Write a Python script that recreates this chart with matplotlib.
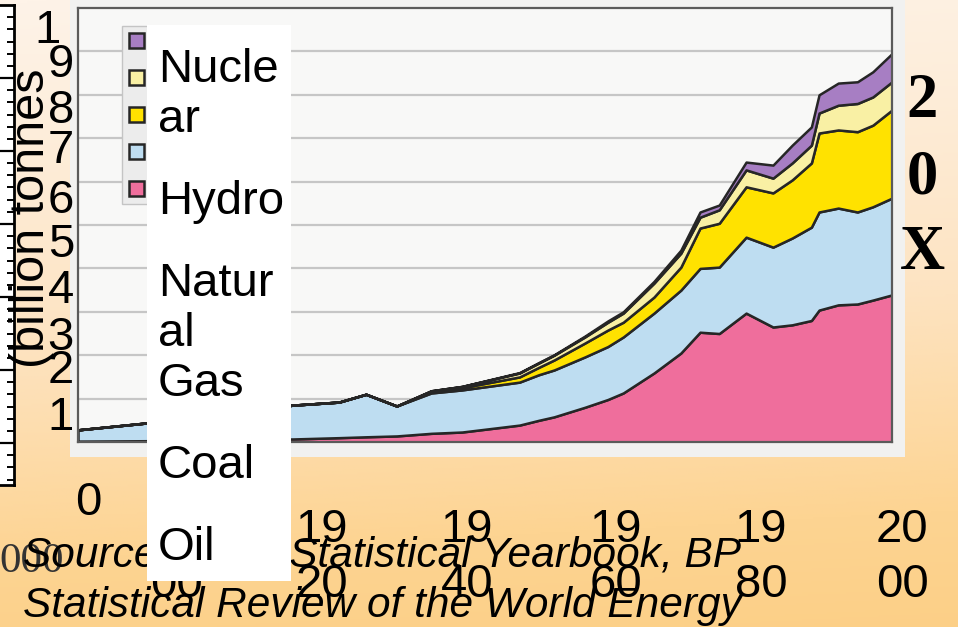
import numpy as np
import matplotlib.pyplot as plt
from matplotlib.patches import Rectangle
from matplotlib.colors import LinearSegmentedColormap

plt.rcParams['font.family'] = ['Liberation Sans', 'DejaVu Sans']

# world energy use by source (scanned stacked chart)
years = [1900, 1909, 1928, 1934, 1937.5, 1941.5, 1946, 1950, 1957.5, 1960, 1962, 1966, 1969,
         1971, 1975, 1978.5, 1981, 1983.5, 1987, 1990.5, 1993, 1995.5, 1996.5, 1999, 2001.5,
         2003.5, 2006]
oil = [0.02, 0.03, 0.07, 0.10, 0.12, 0.14, 0.20, 0.23, 0.39, 0.50, 0.58, 0.80, 0.98,
       1.13, 1.59, 2.05, 2.53, 2.50, 2.97, 2.65, 2.70, 2.80, 3.04, 3.16, 3.18, 3.27, 3.39]
coal = [0.26, 0.41, 0.78, 0.82, 0.98, 0.69, 0.93, 0.97, 0.99, 1.05, 1.08, 1.16, 1.22,
        1.29, 1.38, 1.45, 1.47, 1.53, 1.75, 1.84, 2.00, 2.15, 2.26, 2.23, 2.12, 2.15, 2.23]
gas = [0, 0, 0, 0, 0, 0, 0.03, 0.05, 0.12, 0.17, 0.23, 0.32, 0.38,
       0.34, 0.37, 0.53, 0.93, 1.01, 1.16, 1.25, 1.34, 1.48, 1.82, 1.80, 1.85, 1.88, 2.03]
hydro = [0, 0, 0, 0, 0, 0, 0.02, 0.03, 0.09, 0.10, 0.11, 0.14, 0.18,
         0.21, 0.32, 0.32, 0.25, 0.31, 0.39, 0.34, 0.39, 0.41, 0.46, 0.57, 0.65, 0.65, 0.65]
nuclear = [0, 0, 0, 0, 0, 0, 0, 0, 0.01, 0.01, 0.01, 0.02, 0.03,
           0.03, 0.04, 0.07, 0.12, 0.11, 0.18, 0.30, 0.41, 0.42, 0.42, 0.51, 0.50, 0.58, 0.65]
series_names = ['Oil', 'Coal', 'Natural Gas', 'Hydro', 'Nuclear']
series_colors = ['#EF6E9C', '#BEDDF1', '#FFE200', '#F9F0A4', '#A77EC3']

# slide overlay texts
legend_lines = [['Nucle', 'ar'], ['Hydro'], ['Natur', 'al', 'Gas'], ['Coal'], ['Oil']]
ytick_labels = ['1', '9', '8', '7', '6', '5', '4', '3', '2', '1']
xtick_labels = [('19', '00'), ('19', '20'), ('19', '40'), ('19', '60'), ('19', '80'), ('20', '00')]
source_lines = ['Source: U.N., Statistical Yearbook, BP', 'Statistical Review of the World Energy']

W, H = 958, 627


def fx(x):
    return x / W


def fy(y):
    return 1 - y / H


fig = plt.figure(figsize=(W / 100, H / 100), dpi=100)

# orange slide background
bg = fig.add_axes([0, 0, 1, 1], zorder=0)
yy, xx = np.mgrid[0:1:300j, 0:1:300j]
t = np.clip(yy ** 1.1 * 0.9 + xx * 0.08, 0, 1)
cmap = LinearSegmentedColormap.from_list('bg', [(0, '#FEF3E8'), (0.45, '#FDE4C3'),
                                                (0.8, '#FDD492'), (1, '#FCCF86')])
bg.imshow(t, cmap=cmap, aspect='auto', extent=[0, 1, 0, 1], vmin=0, vmax=1)
bg.axis('off')

# scanned picture panel
fig.add_artist(Rectangle((fx(70), fy(457)), (905 - 70) / W, 457 / H, transform=fig.transFigure,
                         facecolor='#F1F1F0', edgecolor='none', zorder=0.5))

ax = fig.add_axes([fx(78), fy(442), (892 - 78) / W, (442 - 8) / H], zorder=1)
ax.set_facecolor('#F8F8F7')
ax.stackplot(years, oil, coal, gas, hydro, nuclear, colors=series_colors, labels=series_names,
             edgecolor='#262626', linewidth=1.8)
ax.set_xlim(1900, 2006)
ax.set_ylim(0, 10)
ax.set_yticks(range(1, 10))
ax.yaxis.grid(True, color='#C6C6C6', lw=1.6)
ax.set_axisbelow(True)
ax.tick_params(axis='y', length=0, labelleft=False)
ax.set_xticks(np.arange(1905, 2006, 5))
ax.tick_params(axis='x', direction='in', length=5, width=1, color='#777', labelbottom=False)
for s in ax.spines.values():
    s.set_color('#5a5a5a')
    s.set_linewidth(1.6)

h, l = ax.get_legend_handles_labels()
ax.legend(h[::-1], l[::-1], loc='upper left', bbox_to_anchor=((122 - 78) / 814, (442 - 26) / 434),
          fontsize=12, handlelength=0.9, handleheight=1.0, labelspacing=1.25, borderpad=0.4,
          borderaxespad=0, fancybox=False, facecolor='#ECECEC', edgecolor='#C4C4C4', framealpha=1)

# ruler box at the left edge
rax = fig.add_axes([fx(-40), fy(485), 54 / W, 480 / H], zorder=2.6)
rax.set_facecolor('white')
rax.set_ylim(480 / 73, 0)
rax.set_yticks(range(1, 7))
rax.set_yticks(np.arange(1 / 6, 480 / 73, 1 / 6), minor=True)
rax.yaxis.tick_right()
rax.tick_params(axis='y', which='major', direction='in', length=10, width=1.6, labelright=False)
rax.tick_params(axis='y', which='minor', direction='in', length=5, width=1.4)
rax.set_xticks([])
for s in rax.spines.values():
    s.set_linewidth(2)

# y label and y tick labels of the slide chart
fig.text(fx(44), fy(368), '(billion tonnes', rotation=90, rotation_mode='anchor',
         ha='left', va='baseline', fontsize=35, zorder=3)
ybase = [43, 77, 123, 163, 213, 257, 303, 350, 383, 430]
for i, lab in enumerate(ytick_labels):
    xr = 61 if i == 0 else 74
    fig.text(fx(xr), fy(ybase[i]), lab, ha='right', va='baseline', fontsize=34, zorder=3)
fig.text(fx(88), fy(515), '0', ha='center', va='baseline', fontsize=34, zorder=3)
fig.text(fx(64), fy(572), '000', ha='right', va='baseline', fontsize=31,
         family='Liberation Serif', color='#333333', zorder=2)

# x tick labels and source (under the white legend box)
for i, (a, b) in enumerate(xtick_labels):
    xc = 177 + 145 * i + (4 if i in (3, 4) else 0)
    fig.text(fx(xc), fy(542), a, ha='center', va='baseline', fontsize=34, zorder=2)
    fig.text(fx(xc), fy(597), b, ha='center', va='baseline', fontsize=34, zorder=2)
for i, line in enumerate(source_lines):
    fig.text(fx(23), fy(567 + 50 * i), line, ha='left', va='baseline', fontsize=30.5,
             style='italic', zorder=2.2)

# white legend box of the slide
fig.add_artist(Rectangle((fx(147), fy(581)), (291 - 147) / W, (581 - 25) / H,
                         transform=fig.transFigure, facecolor='white', edgecolor='none', zorder=2.5))
yb = 82
for entry in legend_lines:
    for line in entry:
        fig.text(fx(158), fy(yb), line, ha='left', va='baseline', fontsize=34, zorder=3)
        yb += 50
    yb += 32

# "20X" at the right
for i, ch in enumerate('20X'):
    fig.text(fx(922), fy(117 + 76 * i), ch, ha='center', va='baseline', fontsize=45,
             family='Liberation Serif', fontweight='bold', zorder=3)

fig.savefig('out.png', dpi=100)
